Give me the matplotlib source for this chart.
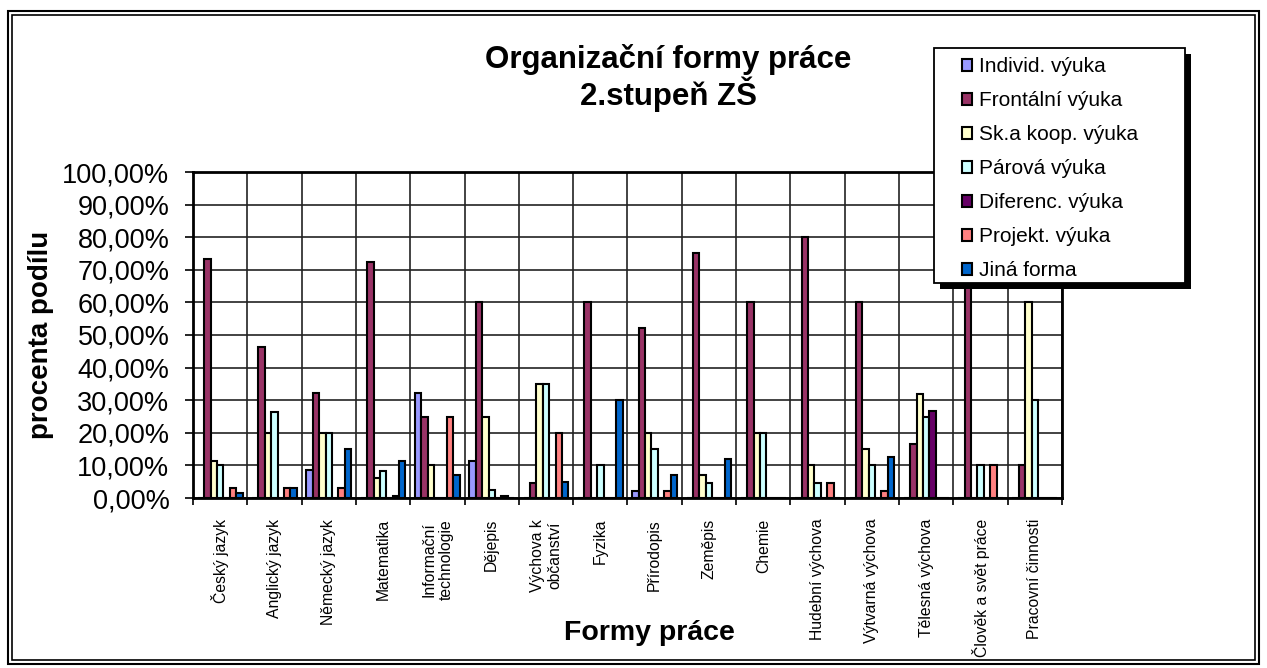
import matplotlib.pyplot as plt
import numpy as np
from matplotlib.patches import Rectangle
from matplotlib.ticker import FuncFormatter, FixedLocator

plt.rcParams['font.family'] = ['Liberation Sans', 'DejaVu Sans']

categories = ["Český jazyk", "Anglický jazyk", "Německý jazyk", "Matematika",
              "Informační\ntechnologie", "Dějepis", "Výchova k\nobčanství", "Fyzika",
              "Přírodopis", "Zeměpis", "Chemie", "Hudební výchova",
              "Výtvarná výchova", "Tělesná výchova", "Člověk a svět práce",
              "Pracovní činnosti"]

series_names = ["Individ. výuka", "Frontální výuka", "Sk.a koop. výuka", "Párová výuka",
                "Diferenc. výuka", "Projekt. výuka", "Jiná forma"]

individ = [0, 0, 8.6, 0, 32.3, 11.5, 0, 0, 2.3, 0, 0, 0, 0, 0, 0, 0]
frontalni = [73.3, 46.3, 32.3, 72.5, 25, 60, 4.7, 60, 52.3, 75, 60, 80, 60, 16.7, 70, 10]
skupinova = [11.3, 20, 20, 6, 10, 25, 35, 0, 20, 7, 20, 10, 15, 31.8, 0, 60]
parova = [10, 26.3, 20, 8.3, 0, 2.5, 35, 10, 15, 4.7, 20, 4.7, 10, 24.8, 10, 30]
diferenc = [0, 0, 0, 0, 0, 0, 0, 0, 0, 0, 0, 0, 0, 26.6, 0, 0]
projekt = [3, 3, 3.2, 0.5, 25, 0.7, 20, 0, 2.3, 0, 0, 4.7, 2, 0, 10, 0]
jina = [1.5, 3, 15, 11.3, 7, 0, 5, 30, 7, 12.1, 0, 0, 12.5, 0, 0, 0]

colors = ["#9999FF", "#993366", "#FFFFCC", "#CCFFFF", "#660066", "#FF8080", "#0066CC"]

W, H = 1267, 668
fig = plt.figure(figsize=(W / 100, H / 100), dpi=100)
ax = fig.add_axes([193 / W, 1 - 498 / H, (1062 - 193) / W, (498 - 172) / H])

data = [individ, frontalni, skupinova, parova, diferenc, projekt, jina]
x = np.arange(len(categories))
w = 1 / 8.5
handles = []
for j, (vals, col, name) in enumerate(zip(data, colors, series_names)):
    b = ax.bar(x + (j - 3) * w, vals, w, color=col, edgecolor="black",
               linewidth=1.5, label=name, zorder=3)
    handles.append(b)

ax.set_xlim(-0.5, len(categories) - 0.5)
ax.set_ylim(0, 100)
ax.yaxis.set_major_locator(FixedLocator(np.arange(0, 101, 10)))
ax.yaxis.set_major_formatter(FuncFormatter(lambda v, p: f"{v:.2f}".replace(".", ",") + "%"))
ax.tick_params(axis="y", labelsize=19.5, length=6, width=1.2, pad=11, direction="out")

# boundaries as major ticks, names as minor ticks
ax.set_xticks(np.arange(-0.5, len(categories), 1))
ax.set_xticklabels([])
ax.set_xticks(x, minor=True)
ax.set_xticklabels(categories, minor=True, rotation=90, fontsize=11.3,
                   va="top", ha="center", linespacing=1.15)
ax.tick_params(axis="x", which="major", length=5, width=1.2)
ax.tick_params(axis="x", which="minor", length=0, pad=15)

ax.grid(True, which="major", color="#222222", linewidth=1.2, zorder=0)
ax.set_axisbelow(True)
for s in ax.spines.values():
    s.set_linewidth(2)
    s.set_color("black")

ax.set_ylabel("procenta podílu", fontsize=20, fontweight="bold")
ax.yaxis.set_label_coords((54 - 193) / (1062 - 193), 0.5)
fig.text(649 / W, 1 - 633 / H, "Formy práce", fontsize=20.5, fontweight="bold",
         ha="center", va="center")
fig.text(668 / W, 1 - 78 / H, "Organizační formy práce\n2.stupeň ZŠ", fontsize=22.5,
         fontweight="bold", ha="center", va="center", linespacing=1.05)

# legend box with a hard black shadow
lx0, lx1, ly0, ly1 = 934, 1185, 48, 283
fig.add_artist(Rectangle(((lx0 + 6) / W, 1 - (ly1 + 6) / H), (lx1 - lx0) / W,
                         (ly1 - ly0) / H, transform=fig.transFigure,
                         facecolor="black", edgecolor="none", zorder=5))
fig.add_artist(Rectangle((lx0 / W, 1 - ly1 / H), (lx1 - lx0) / W, (ly1 - ly0) / H,
                         transform=fig.transFigure, facecolor="white",
                         edgecolor="black", linewidth=1.3, zorder=5.5))
leg = fig.legend(handles, series_names, loc="upper left",
                 bbox_to_anchor=(962 / W, 1 - 57 / H), fontsize=15,
                 frameon=False, handlelength=0.5, handleheight=0.5,
                 handletextpad=0.3, labelspacing=0.72, borderpad=0,
                 borderaxespad=0)
leg.set_zorder(6)
for h in leg.legend_handles:
    h.set_linewidth(1.5)

# double frame around the whole chart
fig.add_artist(Rectangle((8 / W, 4 / H), (W - 16) / W, (H - 15) / H,
                         transform=fig.transFigure, fill=False,
                         edgecolor="black", linewidth=1.5))
fig.add_artist(Rectangle((12 / W, 8 / H), (W - 24) / W, (H - 23) / H,
                         transform=fig.transFigure, fill=False,
                         edgecolor="black", linewidth=1.2))

fig.savefig("out.png", dpi=100)
